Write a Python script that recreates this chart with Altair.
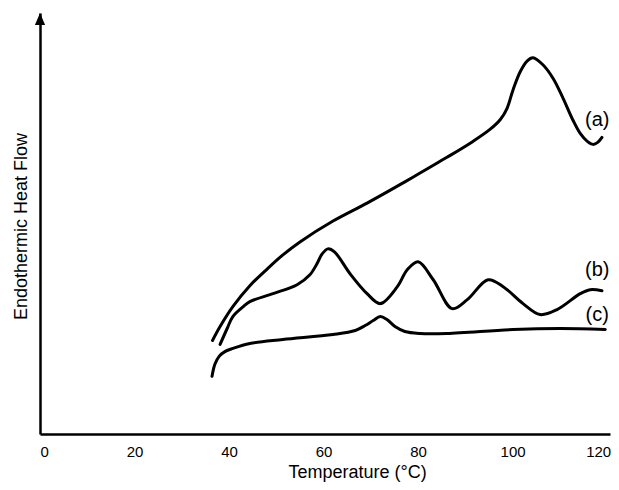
import altair as alt
import pandas as pd

# Curve (a)
a_T = [36.5, 38.1, 40.8, 44.4, 48.1, 51.4, 55.0, 62.0, 69.2, 75.6,
       78.9, 86.1, 91.6, 95.2, 97.4, 98.8, 100.1, 101.6, 103.1, 104.3,
       106.4, 108.6, 110.7, 112.8, 114.3, 115.8, 117.0, 118.0, 118.9]
a_Y = [94, 108, 128, 149, 166, 180, 193, 214, 232, 249,
       258, 278, 294, 306, 316, 327, 346, 364, 375, 378,
       371, 357, 337, 315, 302, 294, 291, 293, 298]

# Curve (b)
b_T = [38.1, 39.6, 40.8, 43.0, 44.4, 49.3, 54.4, 57.1, 58.6, 59.7,
       60.9, 62.3, 65.6, 69.2, 72.0, 75.6, 77.7, 80.0, 83.2, 87.2,
       90.4, 94.8, 98.0, 102.2, 105.8, 109.4, 114.3, 116.4, 118.9]
b_Y = [90, 106, 118, 128, 133, 141, 150, 160, 171, 181,
       186, 183, 161, 141, 131, 148, 165, 173, 155, 126,
       135, 155, 148, 131, 120, 125, 141, 145, 144]

# Curve (c)
c_T = [36.4, 37.0, 37.9, 39.2, 40.8, 44.4, 51.4, 62.0, 66.7, 68.8,
       70.5, 72.0, 73.4, 75.1, 77.2, 80.4, 86.1, 100.1, 110.1, 119.6]
c_Y = [58, 70, 78, 83, 86, 91, 95, 100, 104, 109,
       114, 118, 115, 108, 103, 101, 101, 105, 106, 105]

label_text = ["(a)", "(b)", "(c)"]
label_T = [117.9, 117.9, 117.9]
label_Y = [315, 165, 120]

x_ticks = [0, 20, 40, 60, 80, 100, 120]

rows = []
for name, ts, ys in (("a", a_T, a_Y), ("b", b_T, b_Y), ("c", c_T, c_Y)):
    for i, (t, y) in enumerate(zip(ts, ys)):
        rows.append({"series": name, "order": i, "T": t, "Y": y})
df = pd.DataFrame(rows)
labels_df = pd.DataFrame({"text": label_text, "T": label_T, "Y": label_Y})

FONT = "Liberation Sans"

x_enc = alt.X(
    "T:Q",
    scale=alt.Scale(domain=[0, 120.6], nice=False, zero=False),
    axis=alt.Axis(
        values=x_ticks, ticks=False, grid=False, labelFontSize=15,
        labelColor="black", labelPadding=10, labelFont=FONT,
        labelOffset={"condition": {"test": "datum.value === 120", "value": -9},
                     "value": 0},
        domainColor="black", domainWidth=2.5,
        title="Temperature (°C)", titleFont=FONT, titleFontSize=18,
        titleFontWeight="normal", titleColor="black",
        titleX=317, titleY=38, titleBaseline="middle", titleAlign="center",
    ),
)
y_enc = alt.Y(
    "Y:Q",
    scale=alt.Scale(domain=[0, 423], nice=False, zero=False),
    axis=alt.Axis(
        labels=False, ticks=False, grid=False,
        domainColor="black", domainWidth=2.5,
        title="Endothermic Heat Flow", titleFont=FONT, titleFontSize=18,
        titleFontWeight="normal", titleColor="black",
        titleAngle=-90, titleX=-19, titleY=213,
        titleBaseline="middle", titleAlign="center",
    ),
)

lines = alt.Chart(df).mark_line(
    color="black", strokeWidth=3, interpolate="catmull-rom", strokeCap="round"
).encode(x=x_enc, y=y_enc, detail="series:N", order="order:Q")

texts = alt.Chart(labels_df).mark_text(
    font=FONT, fontSize=20, color="black", align="center", baseline="middle"
).encode(x="T:Q", y="Y:Q", text="text:N")

arrow = alt.Chart(pd.DataFrame({"k": [0]})).mark_point(
    shape="M0,-1L0.85,1L-0.85,1Z", filled=True, color="black",
    size=144, opacity=1, strokeWidth=0
).encode(x=alt.value(0), y=alt.value(6))

chart = (lines + texts + arrow).properties(
    width=570, height=421,
    autosize=alt.AutoSizeParams(type="none"),
    padding={"left": 32, "top": 5, "right": 1, "bottom": 48},
).configure_view(stroke=None)

chart.save("out.html", embed_options={"renderer": "svg", "actions": False})
